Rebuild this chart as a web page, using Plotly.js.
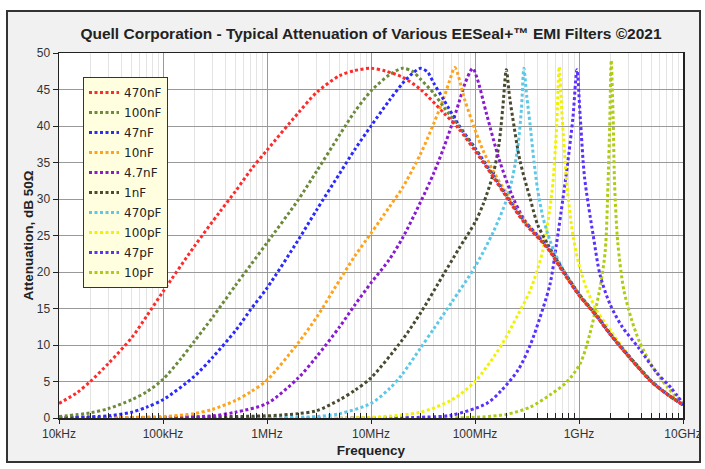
<!DOCTYPE html>
<html>
<head>
<meta charset="utf-8">
<script src="https://cdn.plot.ly/plotly-3.0.1.min.js"></script>
<style>html,body{margin:0;padding:0;background:#fff;}#chart{width:705px;height:469px;}</style>
</head>
<body>
<div id="chart"></div>
<script>
// ---- Data (frequency in Hz, attenuation in dB) ----
const seriesNames = ['470nF','100nF','47nF','10nF','4.7nF','1nF','470pF','100pF','47pF','10pF'];
const tickVals = [1e4,1e5,1e6,1e7,1e8,1e9,1e10];
const tickText = ['10kHz','100kHz','1MHz','10MHz','100MHz','1GHz','10GHz'];

const f470n = [1e4,1.5e4,2e4,3e4,5e4,7e4,1e5,2e5,3.5e5,5e5,7e5,1e6,2e6,3e6,5e6,7e6,1e7,1.4e7,2e7,3e7,5e7,7e7,1e8,1.5e8,2e8,3e8,5e8,7e8,1e9,1.5e9,2e9,3e9,5e9,7e9,1e10];
const a470n = [2.0,3.5,5.0,7.5,11.0,14.0,17.3,23.5,28.2,31.1,34.0,36.7,41.8,44.6,46.9,47.6,47.9,47.5,46.7,45.0,41.8,39.6,36.6,33.0,30.3,26.7,23.2,20.0,16.8,13.8,11.4,8.4,4.9,3.3,1.8];

const f100n = [1e4,2e4,3e4,5e4,7e4,1e5,1.5e5,2e5,3e5,5e5,7e5,1e6,2e6,3e6,5e6,7e6,1e7,1.5e7,2e7,2.5e7,3e7,4e7,5e7,7e7,1e8,1.5e8,2e8,3e8,5e8,7e8,1e9,1.5e9,2e9,3e9,5e9,7e9,1e10];
const a100n = [0.2,0.7,1.3,2.5,3.6,5.3,8.2,10.5,13.8,18.2,21.0,24.0,29.9,33.8,38.8,42.0,44.8,47.0,47.9,47.5,46.4,44.5,42.6,39.9,36.8,33.1,30.4,26.8,23.3,20.1,16.9,13.9,11.5,8.5,5.0,3.3,1.8];

const f47n = [1e4,3e4,5e4,7e4,1e5,2e5,3e5,5e5,7e5,1e6,2e6,3e6,5e6,7e6,1e7,1.5e7,2e7,2.5e7,3e7,3.5e7,4e7,5e7,7e7,1e8,1.5e8,2e8,3e8,5e8,7e8,1e9,1.5e9,2e9,3e9,5e9,7e9,1e10];
const a47n = [0.05,0.3,0.8,1.5,2.5,5.7,8.3,12.0,14.9,17.8,24.4,28.5,33.5,36.8,40.0,43.5,45.8,47.2,47.9,47.4,45.9,43.6,40.1,37.0,33.2,30.5,26.9,23.4,20.2,16.9,13.9,11.5,8.5,5.0,3.3,1.8];

const f10n = [1e4,1e5,2e5,3e5,5e5,7e5,1e6,2e6,3e6,5e6,7e6,1e7,1.5e7,2e7,3e7,4e7,5e7,5.7e7,6.4e7,8e7,1e8,1.2e8,1.5e8,2e8,3e8,5e8,7e8,1e9,1.5e9,2e9,3e9,5e9,7e9,1e10];
const a10n = [0.0,0.2,0.6,1.2,2.4,3.6,5.2,10.3,13.8,18.9,22.2,25.3,28.9,31.5,36.2,40.3,43.8,46.2,48.0,43.5,39.5,36.6,33.8,30.8,27.0,23.4,20.2,16.9,13.9,11.5,8.5,5.0,3.3,1.8];

const f4n7 = [1e4,1e5,3e5,5e5,1e6,2e6,3e6,5e6,7e6,1e7,1.5e7,2e7,3e7,4e7,5e7,6e7,7e7,8e7,9.5e7,1.05e8,1.3e8,1.7e8,2.3e8,3e8,5e8,7e8,1e9,1.5e9,2e9,3e9,5e9,7e9,1e10];
const a4n7 = [0.0,0.05,0.3,0.8,2.0,5.5,8.4,12.5,15.5,18.5,21.7,24.6,29.6,33.5,37.0,40.2,43.2,45.8,47.9,46.5,41.5,35.5,30.3,27.1,23.4,20.2,16.9,13.9,11.5,8.5,5.0,3.3,1.8];

const f1n = [1e4,1e6,2e6,3e6,5e6,7e6,1e7,2e7,3e7,5e7,7e7,1e8,1.2e8,1.5e8,1.7e8,1.85e8,2e8,2.15e8,2.3e8,2.7e8,3.4e8,4e8,5e8,7e8,1e9,1.5e9,2e9,3e9,5e9,7e9,1e10];
const a1n = [0.0,0.3,0.6,1.0,2.5,3.8,5.5,10.7,14.4,19.7,23.2,26.8,29.3,33.5,37.5,42.5,47.7,44.0,41.2,35.3,30.0,26.5,23.8,20.3,17.0,13.9,11.5,8.5,5.0,3.3,1.8];

const f470p = [1e4,1e6,3e6,5e6,1e7,1.5e7,2e7,3e7,4e7,6e7,1e8,1.5e8,2e8,2.3e8,2.6e8,2.8e8,2.95e8,3.15e8,3.38e8,3.7e8,4e8,4.5e8,5.2e8,6e8,7e8,1e9,1.5e9,2e9,3e9,5e9,7e9,1e10];
const a470p = [0.0,0.05,0.2,0.6,2.0,4.0,6.0,9.6,12.2,15.9,20.7,25.5,29.8,33.0,37.5,42.5,47.9,44.0,40.3,35.0,31.3,27.5,24.5,22.3,20.4,17.0,13.9,11.5,8.5,5.0,3.3,1.8];

const f100p = [1e4,1e7,3e7,6e7,1e8,1.8e8,2.6e8,3.4e8,4.5e8,5.5e8,6.1e8,6.45e8,6.9e8,7.7e8,8.75e8,1e9,1.2e9,1.5e9,2e9,3e9,5e9,7e9,1e10];
const a100p = [0.0,0.1,0.8,2.5,5.0,10.0,14.2,17.5,23.0,31.0,40.0,48.1,41.0,31.5,25.0,21.0,17.5,14.6,12.0,8.6,5.0,3.3,1.8];

const f47p = [1e4,3e7,6e7,1.3e8,1.8e8,2.6e8,3.4e8,4.5e8,5.3e8,6.1e8,7e8,7.7e8,8.75e8,9.55e8,1.03e9,1.13e9,1.37e9,1.6e9,2e9,2.6e9,3.8e9,5.6e9,7.6e9,1e10];
const a47p = [0.0,0.1,0.4,2.0,3.8,6.6,10.0,15.0,18.5,24.0,30.0,34.4,41.2,47.7,41.0,33.0,25.0,19.5,15.5,12.5,9.5,6.2,4.2,2.0];

const f10p = [1e4,1e8,2e8,3.4e8,5.3e8,7.7e8,1.03e9,1.27e9,1.6e9,1.79e9,1.9e9,1.98e9,2.04e9,2.13e9,2.2e9,2.36e9,2.7e9,3.2e9,3.8e9,5.1e9,7.1e9,1e10];
const a10p = [0.0,0.1,0.5,1.5,3.2,5.0,7.5,11.5,18.0,23.0,32.0,41.0,49.0,41.0,32.0,24.0,17.5,13.5,10.5,7.0,4.2,2.0];

const seriesF = [f470n,f100n,f47n,f10n,f4n7,f1n,f470p,f100p,f47p,f10p];
const seriesA = [a470n,a100n,a47n,a10n,a4n7,a1n,a470p,a100p,a47p,a10p];
const colors = ['#ff2a2a','#6b8a3a','#2a2aff','#ffa31a','#8a1ad0','#4a4a30','#5cc8e8','#f2f200','#5a30ff','#b0cc10'];

// ---- Traces (drawn with 470nF last so it sits on top; legend ranked 470nF first) ----
const traces = [];
for (let i = seriesNames.length - 1; i >= 0; i--) {
  traces.push({
    x: seriesF[i], y: seriesA[i], name: seriesNames[i],
    legendgroup: 'g' + i, legendrank: i + 1,
    type: 'scatter', mode: 'lines',
    line: {color: colors[i], width: 3, dash: '3px,2.5px', shape: 'spline', smoothing: 0.8},
    hoverinfo: 'skip'
  });
}

const minorVals = [];
for (let e = 4; e < 10; e++) for (let d = 2; d <= 9; d++) minorVals.push(d * Math.pow(10, e));

const L = 59, R = 683, T = 53, B = 418;
const px = v => (v - L) / (R - L);
const py = v => (B - v) / (B - T);
const fx0 = px(7), fx1 = px(700), fy0 = py(462), fy1 = py(11);
const FONT = 'Liberation Sans, Arial, sans-serif';

const layout = {
  width: 705, height: 469,
  margin: {l: L, r: 705 - R, t: T, b: 469 - B},
  paper_bgcolor: '#f1f1f1',
  plot_bgcolor: '#ffffff',
  font: {family: FONT, size: 12, color: '#333'},
  title: {
    text: '<b>Quell Corporation - Typical Attenuation of Various EESeal+™ EMI Filters ©2021</b>',
    font: {family: FONT, size: 15.5, color: '#222'},
    x: 0.5, xref: 'paper', xanchor: 'center',
    y: 1 - 34 / 469, yref: 'container', yanchor: 'middle'
  },
  xaxis: {
    type: 'log', range: [4, 10],
    tickmode: 'array', tickvals: tickVals, ticktext: tickText,
    showline: true, linecolor: '#222', linewidth: 1.5, mirror: true,
    ticks: 'outside', ticklen: 4, tickcolor: '#222',
    showgrid: true, gridcolor: '#999999', gridwidth: 1,
    zeroline: false,
    minor: {tickmode: 'array', tickvals: minorVals, ticks: 'inside', ticklen: 5, tickcolor: '#222',
            showgrid: true, gridcolor: '#e4e4e4', gridwidth: 1},
    tickfont: {family: FONT, size: 12, color: '#333'},
    title: {text: '<b>Frequency</b>', font: {family: FONT, size: 13.5, color: '#222'}, standoff: 5}
  },
  yaxis: {
    range: [0, 50], dtick: 5, tick0: 0,
    showline: true, linecolor: '#222', linewidth: 1.5, mirror: true,
    ticks: 'outside', ticklen: 5, tickcolor: '#222',
    showgrid: true, gridcolor: '#999999', gridwidth: 1,
    zeroline: false,
    tickfont: {family: FONT, size: 12, color: '#333'},
    title: {text: '<b>Attenuation, dB 50Ω</b>', font: {family: FONT, size: 13.5, color: '#222'}, standoff: 0}
  },
  legend: {
    x: px(83), y: py(77), xanchor: 'left', yanchor: 'top',
    bgcolor: '#ffffe0', bordercolor: '#333', borderwidth: 1,
    font: {family: 'DejaVu Sans, Verdana, sans-serif', size: 12, color: '#222'},
    traceorder: 'grouped', tracegroupgap: 1
  },
  shapes: [
    {type: 'rect', xref: 'paper', yref: 'paper', x0: -1, x1: fx0, y0: -1, y1: 2, fillcolor: '#fff', line: {width: 0}},
    {type: 'rect', xref: 'paper', yref: 'paper', x0: fx1, x1: 2, y0: -1, y1: 2, fillcolor: '#fff', line: {width: 0}},
    {type: 'rect', xref: 'paper', yref: 'paper', x0: -1, x1: 2, y0: fy1, y1: 2, fillcolor: '#fff', line: {width: 0}},
    {type: 'rect', xref: 'paper', yref: 'paper', x0: -1, x1: 2, y0: -1, y1: fy0, fillcolor: '#fff', line: {width: 0}},
    {type: 'rect', xref: 'paper', yref: 'paper', x0: fx0, x1: fx1, y0: fy0, y1: fy1, line: {color: '#333', width: 2}}
  ],
  showlegend: true
};

Plotly.newPlot('chart', traces, layout, {staticPlot: true, displayModeBar: false});
</script>
</body>
</html>
